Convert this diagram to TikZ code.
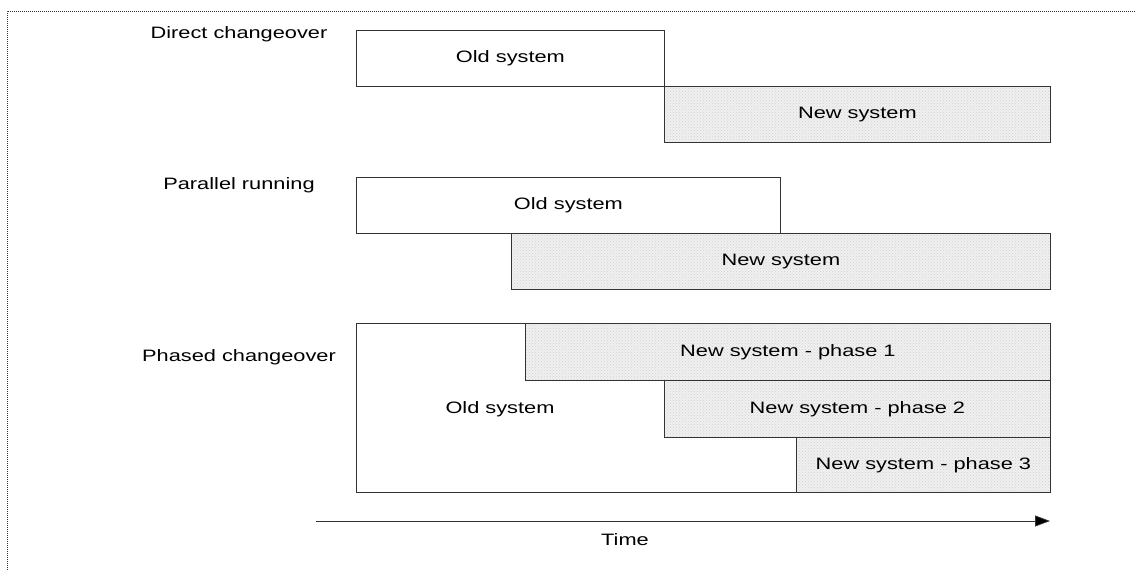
\documentclass[tikz,border=0pt]{standalone}
\usepackage{fontspec}
\setmainfont{Liberation Sans}[FakeStretch=1.32]
\usetikzlibrary{arrows.meta,patterns}
\begin{document}
\begin{tikzpicture}[x=1pt,y=-1pt,
  every node/.style={font=\fontsize{16.5}{20}\selectfont, text=black},
  oldbox/.style={draw=black!80, line width=0.8pt, fill=white, rectangle,
    inner sep=0pt, anchor=north west},
  newbox/.style={oldbox, fill=none,
    preaction={fill=black!6},
    preaction={pattern=crosshatch dots, pattern color=black!18}},
  rowlabel/.style={anchor=base},
  frameline/.style={draw=black!80, line width=0.8pt, dash pattern=on 1pt off 1pt},
  timeline/.style={draw=black!80, line width=0.8pt,
    -{Triangle[length=15pt,width=11pt,fill=black]}}
]
\useasboundingbox (0,0) rectangle (1135,570);

% outer dotted frame (open towards the right and bottom)
\draw[frameline] (7,570) -- (7,11) -- (1135,11);

% --- direct changeover ---
\node[rowlabel] (lblDirect) at (239,38.5) {Direct changeover};
\node[oldbox, minimum width=308, minimum height=56] (dOld) at (356,30) {Old system};
\node[newbox, minimum width=386, minimum height=56] (dNew) at (664,86) {New system};

% --- parallel running ---
\node[rowlabel] (lblParallel) at (239,189) {Parallel running};
\node[oldbox, minimum width=424, minimum height=56] (pOld) at (356,177) {Old system};
\node[newbox, minimum width=539, minimum height=56] (pNew) at (511,233) {New system};

% --- phased changeover ---
\node[rowlabel] (lblPhased) at (239,361) {Phased changeover};
\node[oldbox, minimum width=694, minimum height=169] (phOld) at (356,323) {};
\node (phOldText) at (500,409) {Old system};
\node[newbox, minimum width=525, minimum height=57] (ph1) at (525,323) {New system - phase 1};
\node[newbox, minimum width=386, minimum height=57] (ph2) at (664,380) {New system - phase 2};
\node[newbox, minimum width=254, minimum height=55] (ph3) at (796,437) {New system - phase 3};

% --- time axis ---
\coordinate (tStart) at (316,521);
\coordinate (tEnd) at (1050,521);
\draw[timeline] (tStart) -- (tEnd);
\node (timeLbl) at (625,540) {Time};
\end{tikzpicture}
\end{document}
